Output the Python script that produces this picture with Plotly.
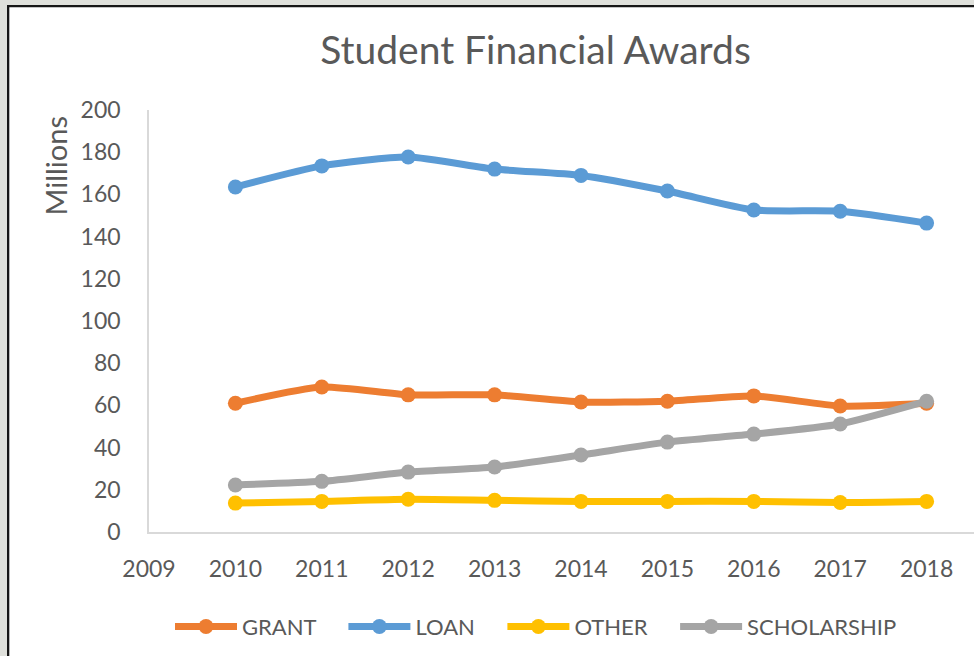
import plotly.graph_objects as go

years = [2010, 2011, 2012, 2013, 2014, 2015, 2016, 2017, 2018]
grant = [61, 68.7, 65, 65, 61.6, 62, 64.5, 59.7, 61]
loan = [163.5, 173.5, 177.7, 172, 169, 161.6, 152.6, 152, 146.4]
other = [13.7, 14.5, 15.5, 15, 14.5, 14.5, 14.5, 14, 14.5]
scholarship = [22.3, 24, 28.4, 30.8, 36.5, 42.6, 46.4, 51.2, 62]

series_names = ["GRANT", "LOAN", "OTHER", "SCHOLARSHIP"]
series_values = [grant, loan, other, scholarship]
colors = ["#ED7D31", "#5B9BD5", "#FFC000", "#A5A5A5"]

W, H = 974, 656
L, R, T, B = 149, 0, 110, 124
pw, ph = W - L - R, H - T - B
FONT = "Lato"
TXT = "#595959"
PAD = "\u00a0" * 4

fig = go.Figure()
for name, vals, col in zip(series_names, series_values, colors):
    fig.add_trace(go.Scatter(
        x=years, y=vals, name=name + PAD, mode="lines+markers",
        line=dict(color=col, width=7, shape="spline", smoothing=0.6),
        marker=dict(color=col, size=15),
    ))

def px_x(px):
    return (px - L) / pw

def px_y(py):
    return (H - B - py) / ph

gray = "#dfe0db"
dark = "#161616"
shapes = [
    dict(type="rect", xref="paper", yref="paper", x0=px_x(0), x1=px_x(7), y0=px_y(H), y1=px_y(0),
         fillcolor=gray, line_width=0, layer="above"),
    dict(type="rect", xref="paper", yref="paper", x0=px_x(0), x1=px_x(W), y0=px_y(5), y1=px_y(0),
         fillcolor=gray, line_width=0, layer="above"),
    dict(type="rect", xref="paper", yref="paper", x0=px_x(7), x1=px_x(9.3), y0=px_y(H), y1=px_y(5),
         fillcolor=dark, line_width=0, layer="above"),
    dict(type="rect", xref="paper", yref="paper", x0=px_x(7), x1=px_x(W), y0=px_y(7.3), y1=px_y(5),
         fillcolor=dark, line_width=0, layer="above"),
]

fig.update_layout(
    width=W, height=H,
    margin=dict(l=L, r=R, t=T, b=B),
    paper_bgcolor="white", plot_bgcolor="white",
    font=dict(family=FONT, color=TXT),
    title=dict(text="Student Financial Awards", font=dict(family=FONT, size=39, color=TXT),
               xref="container", x=535.5 / W, xanchor="center",
               yref="container", y=1 - 50.5 / H, yanchor="middle"),
    xaxis=dict(range=[2009, 2009 + pw / 86.4], tickmode="linear", tick0=2009, dtick=1,
               showgrid=False, zeroline=False, showline=True, linecolor="#D9D9D9", linewidth=1.5,
               ticks="", tickfont=dict(size=23, color=TXT, family=FONT), ticklabelstandoff=16),
    yaxis=dict(range=[0, 200], tickmode="linear", tick0=0, dtick=20,
               showgrid=False, zeroline=False, showline=True, linecolor="#D9D9D9", linewidth=1.5,
               ticks="", tickfont=dict(size=23, color=TXT, family=FONT), ticklabelstandoff=22),
    showlegend=True,
    legend=dict(orientation="h", xref="container", yref="container",
                x=170 / W, xanchor="left", y=1 - 626.7 / H, yanchor="middle",
                font=dict(size=22, color=TXT, family=FONT),
                itemwidth=62, bgcolor="rgba(0,0,0,0)"),
    shapes=shapes,
    annotations=[dict(text="Millions", xref="paper", yref="paper", x=px_x(54.5), y=px_y(166),
                      xanchor="center", yanchor="middle", textangle=-90, showarrow=False,
                      font=dict(size=29, color=TXT, family=FONT))],
)

fig.write_html("out.html", config={"displayModeBar": False},
               post_script="document.body.style.margin='0';document.body.style.overflow='hidden';")
